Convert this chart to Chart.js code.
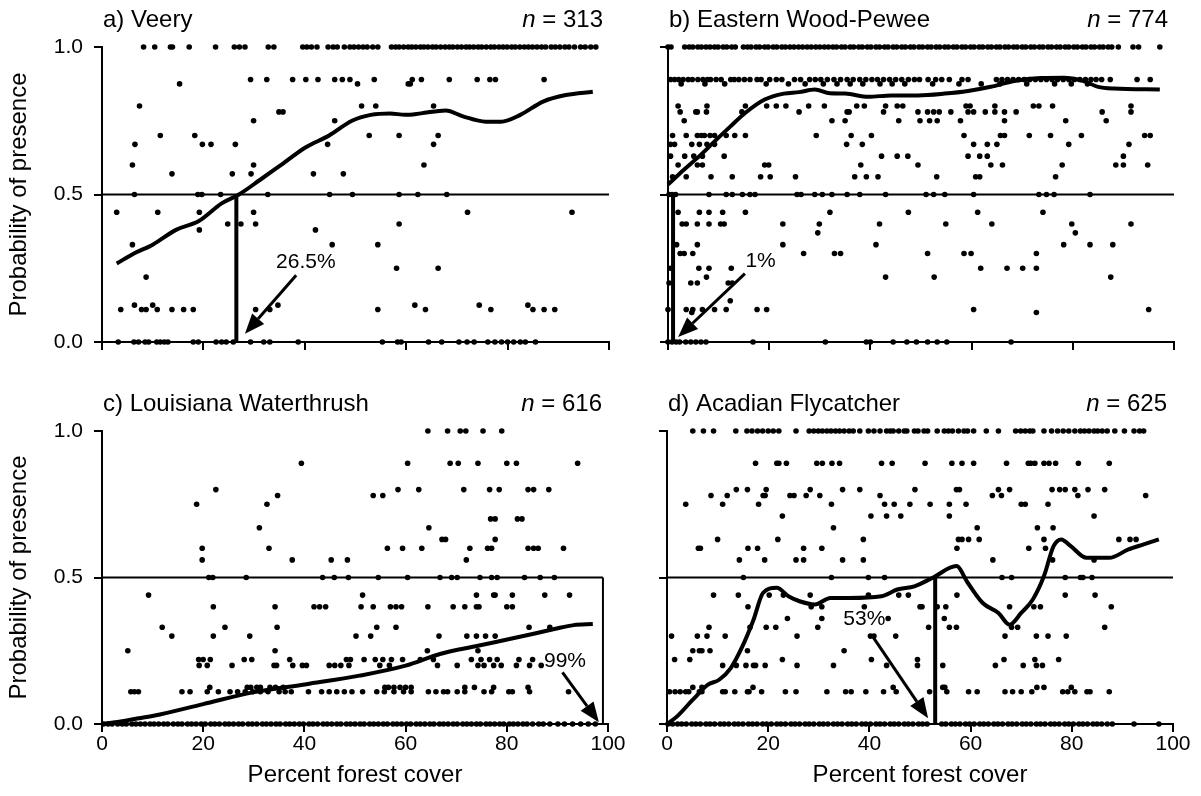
<!DOCTYPE html>
<html>
<head>
<meta charset="utf-8">
<script src="https://cdn.jsdelivr.net/npm/chart.js@4.4.1/dist/chart.umd.min.js"></script>
<style>
  html, body { margin: 0; padding: 0; background: #fff; }
  #wrap { position: relative; width: 1201px; height: 796px; }
  #wrap canvas { position: absolute; left: 0; top: 0; }
</style>
</head>
<body>
<div id="wrap">
  <canvas id="pa" width="1201" height="796"></canvas>
  <canvas id="pb" width="1201" height="796"></canvas>
  <canvas id="pc" width="1201" height="796"></canvas>
  <canvas id="pd" width="1201" height="796"></canvas>
</div>
<script>
// ---- data: [y level, [x values]] ----
const veeryRows = [
  [1.0, [8.2, 10.4, 13.5, 13.9, 17.2, 22.4, 26.1, 27.1, 28.2, 32.8, 33.9, 39.6, 40.4, 41.3, 42.4, 44.6, 45.6, 46.4, 47.8, 48.9, 49.7, 50.6, 51.5, 52.3, 53.4, 54.4, 57.1, 57.9, 58.6, 59.5, 60.4, 61.1, 61.9, 62.8, 63.5, 64.3, 65.2, 65.9, 66.8, 67.7, 68.5, 69.2, 70.1, 70.9, 71.8, 72.5, 73.3, 74.2, 74.9, 75.8, 76.7, 77.4, 78.3, 79.1, 79.9, 80.8, 81.5, 82.4, 83.3, 84.1, 84.9, 85.8, 86.7, 87.5, 88.6, 89.4, 90.3, 91.3, 92.1, 93.2, 94.4, 95.3, 96.4, 97.4]],
  [0.89, [29.3, 32.5, 37.6, 40.2, 42.6, 45.9, 47.4, 48.9, 53.7, 61.2, 63, 68.5, 74, 76.5, 77.6, 87.2]],
  [0.875, [15.3, 50.4, 60.4, 60.8]],
  [0.8, [7.4, 51.2, 54, 65.4]],
  [0.78, [34.9, 35.7]],
  [0.75, [29.9, 45.9]],
  [0.7, [11.5, 18.3, 52.7, 58.6, 66.3]],
  [0.67, [6.5, 19.8, 21.5, 26.3, 44.5, 65.4]],
  [0.6, [6.0, 29.9, 63.5]],
  [0.57, [13.8, 25.7, 29.4, 41.7, 47.6]],
  [0.5, [6.4, 18.9, 19.7, 23.4, 32.7, 44.9, 49.4, 58.6, 62.3, 68]],
  [0.44, [2.9, 11, 19.2, 29.9, 72.1, 92.7]],
  [0.4, [24.8, 27.4, 30.3, 58.6]],
  [0.38, [19.2, 42.1]],
  [0.33, [6.0, 45.4, 54.4]],
  [0.25, [58.1, 66.3]],
  [0.22, [8.7]],
  [0.125, [6.4, 10, 34.7, 61.7, 74.4, 84]],
  [0.11, [3.7, 7.8, 8.7, 10.9, 13.8, 16.1, 18, 30.3, 33.1, 54.4, 63.8, 76.7, 85, 87.2, 89.3]],
  [0, [3.2, 6.3, 7.2, 8.5, 9.2, 10.8, 11.5, 12.3, 13, 18, 19, 22.5, 23.6, 24.5, 25.9, 29.3, 31.9, 33.1, 38.7, 55.3, 58.3, 59, 64.4, 67, 70.4, 72, 73.4, 76.1, 77.5, 78.8, 80, 81.2, 82.5, 83.5, 85.5]]
];
const veeryCurve = [[2.9, 0.266], [6.3, 0.30], [10, 0.33], [14.6, 0.38], [19.1, 0.41], [23.6, 0.47], [27, 0.50], [31.2, 0.55], [35.7, 0.605], [40.2, 0.66], [44.8, 0.70], [49.3, 0.75], [53, 0.77], [56.8, 0.775], [59.8, 0.77], [62.9, 0.775], [67.8, 0.785], [71.2, 0.765], [75.7, 0.747], [78.7, 0.747], [82.5, 0.77], [87, 0.815], [91.5, 0.837], [96.8, 0.848]];
const veeryCut = 26.5;
const veeryArrow = [[38.3, 0.226], [28.2, 0.028]];
const veeryNote = [40.2, 0.27, '26.5%'];

const peweeRows = [
  [1.0, [0, 0.6, 3.3, 4.2, 4.9, 5.9, 6.6, 7.5, 8.3, 9.2, 9.9, 10.9, 11.6, 12.6, 13.3, 14.9, 15.7, 16.4, 17.4, 18.1, 19.1, 19.8, 20.8, 21.5, 22.5, 23.2, 24.1, 24.9, 25.8, 26.6, 27.5, 28.3, 29.2, 30, 30.9, 31.7, 32.6, 33.3, 34.3, 35, 36, 36.7, 37.7, 38.4, 39.4, 40.1, 41.1, 41.8, 42.8, 43.5, 44.5, 45.2, 46.2, 46.9, 47.9, 48.6, 49.6, 50.3, 51.3, 52, 53, 53.7, 54.7, 55.4, 56.4, 57.1, 58.1, 58.8, 59.8, 60.5, 61.5, 62.2, 63.2, 63.9, 64.9, 65.6, 66.6, 67.3, 68.3, 69, 70, 70.7, 71.7, 72.4, 73.4, 74.1, 75.1, 75.8, 76.8, 77.5, 78.5, 79.2, 80.2, 80.9, 81.9, 82.6, 83.6, 84.3, 85.3, 86, 87, 87.7, 89, 91.9, 93, 97.2]],
  [0.89, [0.5, 1.3, 2.1, 3, 4, 4.8, 5.9, 6.9, 7.8, 8.4, 9.5, 10.5, 12.4, 13.1, 14, 15.1, 16.2, 17.6, 18.4, 20.1, 21.4, 22.5, 25, 26.2, 28, 29.1, 30.2, 31.5, 32.8, 34.1, 35.4, 36.6, 37.9, 39.1, 40.3, 41.4, 42.6, 43.8, 45, 46.2, 47.5, 48.7, 49.7, 51.4, 52.9, 54.1, 55.6, 58.1, 59.3, 64.9, 66, 67.1, 68.2, 69.3, 70.4, 71.5, 72.6, 73.7, 74.8, 75.9, 77, 78.1, 79.2, 80.3, 81.4, 82.5, 83.6, 84.6, 85.7, 87.4, 92.7, 95.3]],
  [0.875, [2.6, 7.3, 11.2, 19.4, 23.8, 27.1, 30.7, 33.4, 36, 38.5, 41.9, 44.3, 46.8, 52.3, 57.5, 61.9, 65.6, 70.9, 76.4, 79.7, 82.9]],
  [0.8, [2, 7.7, 15.3, 19.5, 21.4, 23.3, 27.8, 30.9, 37.3, 38.8, 43, 45.3, 46.4, 58.9, 59.7, 64.6, 72.2, 73.3, 76, 91.5]],
  [0.78, [2.4, 5.5, 5.8, 7.6, 14.6, 25.9, 35.4, 35.8, 42.6, 49.4, 51.3, 52.5, 53.6, 55.9, 59.3, 60.4, 62.7, 64.6, 66.5, 68.8, 85.8, 91.5]],
  [0.75, [3.2, 32.4, 35, 45.6, 49.8, 51.7, 53.2, 57.8, 66.5, 78.6, 86.6]],
  [0.7, [0.9, 3.6, 5.8, 6.6, 7.2, 8.3, 9.2, 11.5, 13.2, 15.3, 29.3, 36.2, 40.2, 58.5, 65.7, 66.5, 71.4, 75.6, 81.7, 94.2, 95.3]],
  [0.67, [0.5, 1.3, 4.7, 6.2, 7.7, 9.2, 35.3, 38.4, 60.4, 63.1, 65, 79.2, 91.1]],
  [0.63, [0.5, 3.3, 5.1, 6.8, 11.1, 42.2, 45.3, 47.4, 59.3, 61.6, 63.1, 90]],
  [0.6, [2, 5.8, 6.8, 19.1, 19.9, 38.1, 49.4, 63.8, 66.1, 77.9, 88.5, 90, 94.8]],
  [0.56, [0.9, 3.6, 8.5, 12.7, 18.3, 20.2, 25.2, 36.9, 39.2, 41.5, 53.1, 60.8, 61.6, 76.6]],
  [0.5, [0.2, 0.8, 1.5, 8.1, 11.5, 12.7, 14.7, 16.2, 17.2, 25.5, 26.3, 29, 30.5, 32.4, 35.4, 37.9, 43, 51, 52.5, 54.7, 60.4, 73.3, 74.8, 76.3, 83.4]],
  [0.44, [2, 6.2, 8.1, 10.8, 15.3, 32, 47.5, 61.2, 74.1]],
  [0.4, [2.8, 3.6, 5.8, 8.1, 10.4, 11.1, 22.7, 29.9, 41.8, 54.9, 64, 79.8, 91.5]],
  [0.37, [29.6, 80.5]],
  [0.33, [1.7, 5.8, 22.7, 41.1, 78.2, 83.4, 87.9]],
  [0.3, [2.4, 3.2, 4.9, 26.8, 32.9, 34.1, 51.3, 58.5, 59.9, 72.8]],
  [0.25, [0.5, 6.1, 8.1, 12.5, 61.8, 67, 70.1, 72.8]],
  [0.22, [7.6, 43, 52.6, 87.5]],
  [0.2, [0.2, 4.5, 5.8, 11.9, 12.7]],
  [0.14, [12.3]],
  [0.11, [0, 3.6, 4.9, 6.8, 9.2, 11.5, 17.6, 19.5, 60.4, 95]],
  [0.1, [4.7, 72.8]],
  [0, [0, 0.8, 1.6, 2.3, 3.5, 4.5, 5.5, 6.5, 7.5, 16.8, 31.1, 39.2, 40, 44.5, 47.2, 49.1, 51.3, 53.2, 55.1, 67.8]]
];
const peweeCurve = [[0, 0.534], [3.2, 0.585], [6.2, 0.63], [9.2, 0.68], [12.3, 0.73], [15.3, 0.777], [19.1, 0.822], [22.9, 0.842], [25.9, 0.847], [29, 0.856], [32, 0.843], [35, 0.842], [39.6, 0.831], [44.1, 0.836], [49.4, 0.836], [54.7, 0.842], [59.3, 0.851], [63.8, 0.865], [68.4, 0.885], [73.7, 0.895], [78.2, 0.896], [82, 0.885], [85, 0.865], [88.1, 0.859], [97.2, 0.856]];
const peweeCut = 1;
const peweeArrow = [[15.2, 0.232], [2.0, 0.017]];
const peweeNote = [18.3, 0.274, '1%'];

const thrushRows = [
  [1.0, [64.4, 68.3, 70.8, 71.9, 75.3, 79]],
  [0.89, [39.4, 60.4, 68.8, 70.4, 74.3, 80, 81.9, 94]],
  [0.8, [22.5, 58.5, 62.6, 71.5, 76.6, 78.5, 84.2, 85.3, 88.3]],
  [0.78, [34.7, 53.6, 55.5]],
  [0.75, [18.7, 32.6]],
  [0.7, [76.8, 77.7, 82.1, 83]],
  [0.67, [31.1, 64.6]],
  [0.63, [67.2, 67.9, 77.7]],
  [0.6, [19.8, 33, 56.4, 59.4, 63.2, 72.7, 76.2, 77, 84.2, 85.3, 86.2, 91.2]],
  [0.56, [19.8, 37.6, 45.3, 48.5, 72]],
  [0.5, [21.1, 21.9, 28.5, 43.6, 45.9, 48.7, 54.6, 60.4, 66.8, 69.1, 70.2, 74.7, 77, 78.1, 83.5, 86.6, 89.4]],
  [0.44, [9.2, 51.5, 74, 77.4, 77.7, 81.1, 87.5, 92.4]],
  [0.4, [22, 34.2, 41.9, 43, 44.2, 51.2, 53.6, 57, 58.1, 59.2, 64.4, 69.4, 71.7, 74, 74.5, 80, 81.1]],
  [0.33, [11.9, 24.3, 34.6, 54.3, 58.1, 84.4, 88.5]],
  [0.3, [13.8, 22, 29.2, 50.2, 53.1, 66.6, 72.1, 74, 75.8, 77.7]],
  [0.25, [5.1, 34.2, 64.3, 74.3]],
  [0.22, [19.1, 20, 21.4, 28.1, 29.6, 37.1, 48.3, 49.1, 51.8, 54, 55.5, 57.2, 59.4, 62.9, 65.5, 73, 74.9, 76.6, 78.1, 82.4, 85.1]],
  [0.2, [19.2, 20.8, 25.7, 34, 34.5, 37.7, 39.6, 40.4, 44.9, 46, 47.2, 48.8, 54.9, 56.8, 66.3, 70.2, 74.3, 75.5, 77.4, 78.9, 81.9, 84.5, 86.8]],
  [0.125, [21.3, 28.7, 29.4, 30.6, 31.3, 33.2, 34.3, 35.8, 55.9, 56.6, 57.7, 58.9, 60, 61.1, 71.7, 73.6, 77.4, 84.2]],
  [0.11, [5.7, 6.4, 7.2, 15.8, 17.4, 20.8, 23, 25.3, 26.8, 28.3, 29.8, 31.3, 32.8, 35, 36.2, 37.4, 40.8, 43.4, 44.9, 46.4, 47.9, 49.4, 51.5, 54.3, 55.8, 57.7, 59.6, 61.1, 64.5, 66, 67.5, 68.3, 70.2, 71.7, 75.5, 77, 80.4, 81.1, 84.5, 92.2]],
  [0, [0.3, 1.2, 2, 3.1, 4, 4.8, 5.9, 6.7, 7.6, 8.5, 9.5, 10.3, 11.2, 12.2, 13, 14.1, 15, 15.8, 16.9, 17.7, 18.6, 19.6, 20.4, 21.5, 22.3, 23.2, 24.3, 25.1, 26, 27, 27.8, 28.9, 29.7, 30.6, 31.7, 32.5, 33.4, 34.4, 35.2, 36.3, 37.1, 38, 39, 39.8, 40.9, 41.7, 42.6, 43.7, 44.5, 45.4, 46.4, 47.2, 48.3, 49.1, 50, 51, 51.8, 52.9, 53.7, 54.6, 55.6, 56.4, 57.5, 58.3, 59.2, 60.2, 61, 62.1, 62.9, 63.8, 64.8, 65.6, 66.7, 67.5, 68.4, 69.4, 70.2, 71.3, 72.1, 73, 74, 74.8, 75.9, 76.7, 77.6, 78.6, 79.4, 80.5, 81.3, 82.2, 83.2, 84, 85.1, 86.3, 87.2, 88.5, 90.1, 91.4, 93, 94.6, 96.1, 97.5]]
];
const thrushCurve = [[0, 0], [2.6, 0.006], [6.4, 0.017], [10.2, 0.028], [20, 0.068], [29.8, 0.108], [40.4, 0.136], [50.9, 0.165], [60, 0.199], [66.8, 0.239], [74.3, 0.267], [81.9, 0.295], [89.4, 0.324], [93.2, 0.3375], [97, 0.341]];
const thrushCut = 99;
const thrushArrow = [[91, 0.176], [98.2, 0.006]];
const thrushNote = [91.5, 0.215, '99%'];

const flyRows = [
  [1.0, [5.1, 7.2, 9.2, 13.6, 15.8, 16.8, 17.9, 18.9, 20, 21, 22.1, 25.5, 28.1, 29, 29.9, 30.7, 31.6, 32.4, 33.3, 34.1, 35, 36, 36.8, 38.1, 39.8, 40.9, 42.1, 43.4, 44.1, 44.7, 45.8, 46.9, 47.4, 48.9, 49.6, 50.8, 51.5, 53.4, 54.8, 55.6, 56.4, 57.6, 58.7, 59.4, 60.6, 63.1, 65.5, 68.9, 69.9, 70.8, 71.7, 72.3, 74.5, 76, 77.2, 78.3, 79.4, 80.6, 81.7, 82.5, 83.4, 84.4, 85.1, 86, 87, 88.5, 90.4, 92.3, 93.4, 94.2]],
  [0.89, [17.5, 21.7, 22.1, 23.6, 29.6, 30.7, 32.6, 34.1, 42.4, 44.5, 51, 56.3, 58.3, 60.6, 67.1, 71.4, 71.9, 72.7, 74.5, 75.5, 76.8, 81.3, 87.4]],
  [0.8, [13.7, 15.9, 19.6, 28.3, 34.7, 38.1, 49, 57.2, 57.8, 65.5, 67.7, 76.1, 77.6, 78.7, 80.6, 83.2, 86.5]],
  [0.78, [8.7, 11.9, 19, 19.4, 24.3, 25.1, 27.5, 30.2, 42.1, 64.3, 66.1, 81.2, 94.6]],
  [0.75, [3.7, 11, 18.1, 32.5, 43, 44.9, 48, 52, 55.8, 59.1, 70, 70.8, 75.3]],
  [0.71, [22.8, 40.3, 43.4, 46.2, 55.8, 84.4]],
  [0.67, [32.9, 61.3, 73.2, 76.3]],
  [0.63, [10, 21.9, 38.8, 57.6, 58.3, 59.6, 61.7, 74.5, 89.3, 91.5, 92.7]],
  [0.6, [6.2, 6.6, 16, 17.9, 27, 30.6, 57.3, 71.5, 74.8]],
  [0.56, [14.3, 19.3, 25.5, 27, 34.7, 38.8, 64.4, 76.2, 84.4]],
  [0.5, [15.1, 32.5, 39.8, 43, 66.2, 68.1, 78.7, 81.7, 82.2, 84]],
  [0.44, [9.2, 14.1, 20.2, 23, 28.3, 39.8, 45.8, 47.7, 57.3, 78.7, 84.6]],
  [0.4, [16, 28.5, 30.6, 39, 50, 50.4, 53.4, 55.1, 67.7, 72.5, 73.8, 87.8]],
  [0.36, [23.8, 30.6, 43.7, 54.8]],
  [0.33, [8.3, 16.4, 19.6, 21.5, 29.8, 51.7, 55.8, 57.2, 68.1, 69.3, 86.5]],
  [0.3, [0.9, 6, 7.9, 11.5, 25.7, 40.2, 40.9, 45.2, 66.8, 73, 75.3, 78.9]],
  [0.25, [5.1, 6.4, 6.9, 8.5, 15.9, 35]],
  [0.22, [1.5, 4.5, 22.8, 40.4, 49.5, 66.6, 72.7, 77.4]],
  [0.2, [11, 13.7, 15.6, 17.1, 17.5, 19.4, 25.7, 32.9, 43.4, 49.5, 54.5, 64.9, 70.4, 73, 74.2]],
  [0.125, [5.1, 6.9, 17, 44.7, 54.5, 54.9, 73.1, 74.5, 79.9]],
  [0.11, [0.5, 1.6, 2.6, 3.7, 4.3, 6.4, 6.9, 11, 11.5, 13.4, 15.9, 16.2, 18.7, 23.4, 25.5, 31.6, 35.3, 36.4, 39.3, 42.8, 45.3, 51.9, 55.3, 59.6, 61.3, 66.8, 68.3, 70, 72.1, 78.2, 79.2, 80.6, 83, 83.6, 87.4]],
  [0, [0.2, 1.1, 2.1, 2.9, 3.8, 4.9, 5.7, 6.6, 7.7, 8.5, 9.4, 10.5, 11.3, 12.2, 13.3, 14.1, 15, 16.1, 16.9, 17.8, 18.9, 19.7, 20.6, 21.7, 22.5, 23.4, 24.5, 25.3, 26.2, 27.3, 28.1, 29, 30.1, 30.9, 31.8, 32.9, 33.7, 34.6, 35.7, 36.5, 37.4, 38.5, 39.3, 40.2, 41.3, 42.1, 43, 44.1, 44.9, 45.8, 46.9, 47.7, 48.6, 49.7, 50.5, 51.4, 54.3, 55.1, 56.2, 57, 57.9, 59, 59.8, 60.7, 61.8, 62.6, 63.5, 64.6, 65.4, 66.3, 67.4, 68.2, 69.1, 70.2, 71, 71.9, 73, 73.8, 74.7, 75.8, 76.6, 77.5, 78.6, 79.4, 80.3, 81.4, 82.2, 83.1, 84.2, 85, 85.9, 87, 88, 92.3, 97.2]]
];
const flyCurve = [[0, 0], [2, 0.026], [5.1, 0.083], [8.1, 0.134], [10.3, 0.151], [12.6, 0.191], [14.9, 0.265], [17.1, 0.356], [19, 0.448], [21.7, 0.465], [24, 0.436], [26.2, 0.419], [29.2, 0.408], [32.3, 0.43], [36, 0.43], [42.4, 0.436], [45.5, 0.459], [48.9, 0.47], [52.6, 0.5], [57.2, 0.539], [59.4, 0.483], [62.4, 0.413], [65.5, 0.379], [67.7, 0.339], [70, 0.379], [72.3, 0.425], [74.5, 0.505], [76.4, 0.607], [77.9, 0.63], [79.8, 0.607], [82.9, 0.567], [87.4, 0.567], [91.2, 0.596], [94.2, 0.613], [97.2, 0.63]];
const flyCut = 53;
const flyArrow = [[40.6, 0.30], [51.6, 0.02]];
const flyNote = [39, 0.356, '53%'];

const xTickStep = 20;
const yTickStep = 0.5;

// ---- layout of the four panels (plot-area padding inside a full-page canvas) ----
const panels = [
  { id: 'pa', title: 'a) Veery', n: '313', rows: veeryRows, curve: veeryCurve, cut: veeryCut, arrow: veeryArrow, note: veeryNote,
    pad: { left: 0, top: 47, right: 592, bottom: 394 }, yW: 102, xH: 60, yLab: true, xLab: false, cutW: 4, halfTo: 100 },
  { id: 'pb', title: 'b) Eastern Wood-Pewee', n: '774', rows: peweeRows, curve: peweeCurve, cut: peweeCut, arrow: peweeArrow, note: peweeNote,
    pad: { left: 628, top: 47, right: 27, bottom: 394 }, yW: 40, xH: 60, yLab: false, xLab: false, cutW: 4, halfTo: 100 },
  { id: 'pc', title: 'c) Louisiana Waterthrush', n: '616', rows: thrushRows, curve: thrushCurve, cut: thrushCut, arrow: thrushArrow, note: thrushNote,
    pad: { left: 0, top: 431, right: 593, bottom: 0 }, yW: 102, xH: 72, yLab: true, xLab: true, cutW: 2, halfTo: thrushCut },
  { id: 'pd', title: 'd) Acadian Flycatcher', n: '625', rows: flyRows, curve: flyCurve, cut: flyCut, arrow: flyArrow, note: flyNote,
    pad: { left: 627, top: 431, right: 28, bottom: 0 }, yW: 40, xH: 72, yLab: false, xLab: true, cutW: 4, halfTo: 100 }
];

const FONT = '"Liberation Sans", Arial, Helvetica, sans-serif';
Chart.defaults.font.family = FONT;
Chart.defaults.color = '#000';

function toPoints(rows) {
  const pts = [];
  rows.forEach(([y, xs]) => xs.forEach(x => pts.push({ x, y })));
  return pts;
}

function annotate(p) {
  return {
    id: 'annot_' + p.id,
    afterDatasetsDraw(chart) {
      const { ctx, chartArea, scales: { x, y } } = chart;
      ctx.save();
      ctx.fillStyle = '#000';
      ctx.strokeStyle = '#000';
      // arrow
      const [t, h] = p.arrow;
      const x1 = x.getPixelForValue(t[0]), y1 = y.getPixelForValue(t[1]);
      const x2 = x.getPixelForValue(h[0]), y2 = y.getPixelForValue(h[1]);
      const ang = Math.atan2(y2 - y1, x2 - x1);
      const hl = 20, hw = 8;
      const bx = x2 - hl * Math.cos(ang), by = y2 - hl * Math.sin(ang);
      ctx.lineWidth = 3;
      ctx.beginPath(); ctx.moveTo(x1, y1); ctx.lineTo(bx, by); ctx.stroke();
      ctx.beginPath();
      ctx.moveTo(x2, y2);
      ctx.lineTo(bx + hw * Math.sin(ang), by - hw * Math.cos(ang));
      ctx.lineTo(bx - hw * Math.sin(ang), by + hw * Math.cos(ang));
      ctx.closePath(); ctx.fill();
      // note text
      ctx.font = '21px ' + FONT;
      ctx.textAlign = 'center'; ctx.textBaseline = 'middle';
      ctx.fillText(p.note[2], x.getPixelForValue(p.note[0]), y.getPixelForValue(p.note[1]));
      // panel title
      ctx.font = '24px ' + FONT;
      ctx.textAlign = 'left';
      ctx.fillText(p.title, chartArea.left + 1, chartArea.top - 27);
      // n = ...
      const rest = ' = ' + p.n;
      const wRest = ctx.measureText(rest).width;
      ctx.font = 'italic 24px ' + FONT;
      const wN = ctx.measureText('n').width;
      const x0 = chartArea.right - 6 - wRest - wN;
      ctx.fillText('n', x0, chartArea.top - 27);
      ctx.font = '24px ' + FONT;
      ctx.fillText(rest, x0 + wN, chartArea.top - 27);
      ctx.restore();
    }
  };
}

panels.forEach(p => {
  const line = { showLine: true, borderColor: '#000', pointRadius: 0, clip: false, fill: false };
  new Chart(document.getElementById(p.id), {
    type: 'scatter',
    data: {
      datasets: [
        Object.assign({ data: p.curve.map(([x, y]) => ({ x, y })), borderWidth: 4, cubicInterpolationMode: 'monotone', order: 0 }, line),
        Object.assign({ data: [{ x: 0, y: 0.5 }, { x: p.halfTo, y: 0.5 }], borderWidth: 2, order: 1 }, line),
        Object.assign({ data: [{ x: p.cut, y: 0.5 }, { x: p.cut, y: 0 }], borderWidth: p.cutW, order: 1 }, line),
        { data: toPoints(p.rows), pointRadius: 2.8, pointBackgroundColor: '#000', pointBorderWidth: 0, showLine: false, clip: false, order: 5 }
      ]
    },
    options: {
      responsive: false,
      animation: false,
      devicePixelRatio: 1,
      events: [],
      layout: { padding: p.pad },
      plugins: { legend: { display: false }, tooltip: { enabled: false } },
      scales: {
        x: {
          type: 'linear', min: 0, max: 100,
          afterFit: s => { s.height = p.xH; },
          ticks: { stepSize: xTickStep, padding: 0, font: { size: 21 }, color: '#000', maxRotation: 0,
                   callback: v => p.xLab ? String(v) : '' },
          grid: { drawOnChartArea: false, drawTicks: true, tickLength: 8, color: '#000', lineWidth: 2 },
          border: { display: true, color: '#000', width: 2 },
          title: { display: p.xLab, text: 'Percent forest cover', font: { size: 24 }, color: '#000', padding: { top: 0, bottom: 6 } }
        },
        y: {
          type: 'linear', min: 0, max: 1,
          afterFit: s => { s.width = p.yW; },
          ticks: { stepSize: yTickStep, padding: 11, font: { size: 21 }, color: '#000',
                   callback: v => p.yLab ? v.toFixed(1) : '' },
          grid: { drawOnChartArea: false, drawTicks: true, tickLength: 8, color: '#000', lineWidth: 2 },
          border: { display: true, color: '#000', width: 2 },
          title: { display: p.yLab, text: 'Probability of presence', font: { size: 24 }, color: '#000', padding: { top: 5, bottom: 0 } }
        }
      }
    },
    plugins: [annotate(p)]
  });
});
</script>
</body>
</html>
